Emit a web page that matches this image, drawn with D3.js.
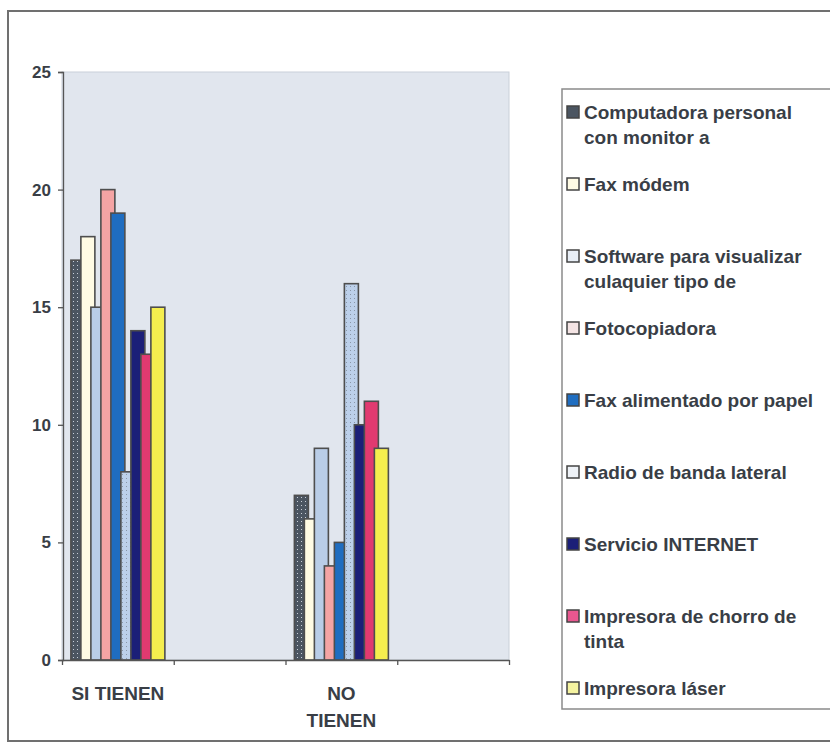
<!DOCTYPE html>
<html>
<head>
<meta charset="utf-8">
<script src="https://cdn.jsdelivr.net/npm/d3@7"></script>
<style>
body { margin: 0; background: #fff; }
text { font-family: "Liberation Sans", Arial, sans-serif; fill: #393e46; font-weight: bold; }
</style>
</head>
<body>
<script>
// data (each pair adds up to 24)
const categories = ["SI TIENEN", "NO TIENEN"];
const categoryLines = [["SI TIENEN"], ["NO", "TIENEN"]];
const categorySlots = [0, 2];          // axis has 4 slots, 2 of them empty
const seriesNames = [
    "Computadora personal con monitor a",
    "Fax módem",
    "Software para visualizar culaquier tipo de",
    "Fotocopiadora",
    "Fax alimentado por papel",
    "Radio de banda lateral",
    "Servicio INTERNET",
    "Impresora de chorro de tinta",
    "Impresora láser"
];
const legendLines = [
    ["Computadora personal", "con monitor a"],
    ["Fax módem"],
    ["Software para visualizar", "culaquier tipo de"],
    ["Fotocopiadora"],
    ["Fax alimentado por papel"],
    ["Radio de banda lateral"],
    ["Servicio INTERNET"],
    ["Impresora de chorro de", "tinta"],
    ["Impresora láser"]
];
const siTienen = [17, 18, 15, 20, 19, 8, 14, 13, 15];
const noTienen = [7, 6, 9, 4, 5, 16, 10, 11, 9];
const yTicks = [0, 5, 10, 15, 20, 25];

const fills = ["url(#pc)", "#fffbe4", "#b9cde7", "#f4a4a4", "#1f6dc0",
               "url(#radio)", "#1b1f78", "#e13a70", "#f5ee4e"];
const legendFills = ["#4b5561", "#fffbe4", "#e8eef6", "#f4e4e4", "#1f6dc0",
                     "#eef2f7", "#1b1f78", "#e8578f", "#f5f3a0"];

const width = 830, height = 743;
const plot = {left: 62, right: 509, top: 72, bottom: 660};

let svg = d3.select("body")
            .append("svg")
            .attr("width", width)
            .attr("height", height);

// fill patterns
let defs = svg.append("defs");
let pc = defs.append("pattern").attr("id", "pc")
    .attr("width", 4).attr("height", 4).attr("patternUnits", "userSpaceOnUse");
pc.append("rect").attr("width", 4).attr("height", 4).attr("fill", "#4b5561");
pc.append("rect").attr("x", 1).attr("y", 1).attr("width", 1).attr("height", 1).attr("fill", "#c9ced6");
let radio = defs.append("pattern").attr("id", "radio")
    .attr("width", 4).attr("height", 4).attr("patternUnits", "userSpaceOnUse");
radio.append("rect").attr("width", 4).attr("height", 4).attr("fill", "#bcd0ea");
radio.append("rect").attr("x", 2).attr("y", 2).attr("width", 1).attr("height", 1).attr("fill", "#8a97a8");

// outer frame
svg.append("rect")
    .attr("x", 8).attr("y", 11)
    .attr("width", 840).attr("height", 730)
    .attr("fill", "none")
    .attr("stroke", "#707070")
    .attr("stroke-width", 2);

// plot area
svg.append("rect")
    .attr("x", plot.left).attr("y", plot.top)
    .attr("width", plot.right - plot.left)
    .attr("height", plot.bottom - plot.top)
    .attr("fill", "#e1e6ee")
    .attr("stroke", "#c9d0d9");

let yScale = d3.scaleLinear()
    .domain([0, 25])
    .range([plot.bottom, plot.top]);

let xScale = d3.scaleLinear()
    .domain([0, 4])
    .range([plot.left, plot.right]);

// offsets of the 9 overlapping bars around the cluster centre
let inner = d3.scaleLinear()
    .domain([0, seriesNames.length - 1])
    .range([-40, 40]);
const barWidth = 14;

const values = [siTienen, noTienen];

seriesNames.forEach((name, i) => {
    svg.append("g")
        .selectAll("rect")
        .data(categories.map((c, k) => ({c: k, v: values[k][i]})))
        .enter()
        .append("rect")
            .attr("x", d => xScale(categorySlots[d.c] + 0.5) + inner(i) - barWidth / 2)
            .attr("y", d => yScale(d.v))
            .attr("width", barWidth)
            .attr("height", d => yScale(0) - yScale(d.v))
            .attr("fill", fills[i])
            .attr("stroke", "#4e4e4e")
            .attr("stroke-width", 1.6);
});

// axes
let yAxis = svg.append("g")
    .attr("transform", `translate(${plot.left + 1},0)`)
    .call(d3.axisLeft(yScale).tickValues(yTicks).tickSize(5).tickPadding(7));
yAxis.selectAll("text").style("font-size", "17px").style("fill", "#393e46");

let xAxis = svg.append("g")
    .attr("transform", `translate(0,${plot.bottom})`)
    .call(d3.axisBottom(xScale).tickValues([0, 1, 2, 3, 4]).tickFormat("").tickSize(5).tickSizeOuter(0));

svg.selectAll(".domain, .tick line").attr("stroke", "#555").attr("stroke-width", 1.3);

// category labels
categories.forEach((c, k) => {
    let t = svg.append("text")
        .attr("text-anchor", "middle")
        .style("font-size", "19px");
    categoryLines[k].forEach((line, j) => {
        t.append("tspan")
            .attr("x", xScale(categorySlots[k] + 0.5))
            .attr("y", 700 + j * 27)
            .text(line);
    });
});

// legend
svg.append("rect")
    .attr("x", 562).attr("y", 89)
    .attr("width", 300).attr("height", 620)
    .attr("fill", "#fff")
    .attr("stroke", "#8a8a8a")
    .attr("stroke-width", 1.5);

let legend = svg.append("g")
    .selectAll("g")
    .data(seriesNames)
    .enter()
    .append("g")
        .attr("transform", (d, i) => `translate(567, ${112 + i * 72})`);

legend.append("rect")
    .attr("x", 0).attr("y", -6)
    .attr("width", 12).attr("height", 12)
    .attr("fill", (d, i) => legendFills[i])
    .attr("stroke", "#444")
    .attr("stroke-width", 1.5);

legend.append("text")
    .style("font-size", "19px")
    .each(function (d, i) {
        legendLines[i].forEach((line, j) => {
            d3.select(this).append("tspan")
                .attr("x", 17)
                .attr("y", 7 + j * 25)
                .text(line);
        });
    });
</script>
</body>
</html>
